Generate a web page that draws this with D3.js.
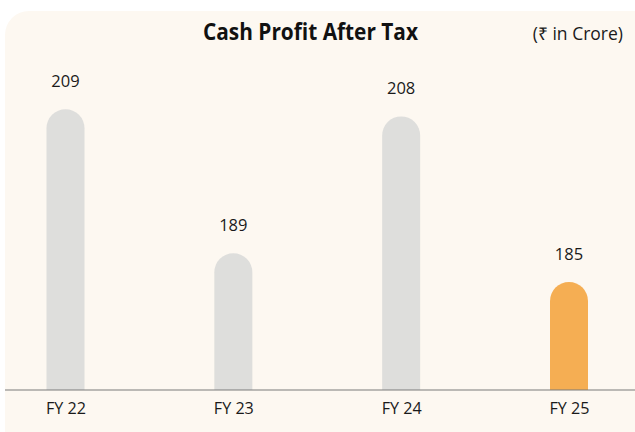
<!DOCTYPE html>
<html>
<head>
<meta charset="utf-8">
<script src="https://cdn.jsdelivr.net/npm/d3@7"></script>
<style>
  html, body { margin: 0; padding: 0; background: #ffffff; }
  svg { display: block; }
</style>
</head>
<body>
<svg id="chart" width="635" height="432"></svg>
<script>
// Cash profit after tax, ₹ in crore
const categories = ["FY 22", "FY 23", "FY 24", "FY 25"];
const values = [209, 189, 208, 185];
const highlight = ["FY 25"];

const title = "Cash Profit After Tax";
const unitNote = "(₹ in Crore)";

const W = 635, H = 432;
const baseY = 390;
const barW = 38;
const font = "'Open Sans', sans-serif";

const svg = d3.select("#chart");

// cream panel with rounded corners
svg.append("rect")
  .attr("x", 5).attr("y", 11)
  .attr("width", W + 20).attr("height", H + 30)
  .attr("rx", 24).attr("ry", 24)
  .attr("fill", "#fdf8f1");

const x = d3.scalePoint().domain(categories).range([65.5, 569]);
const y = d3.scaleLinear().domain([170, 220]).range([baseY, 30]);

// bar with a fully rounded top
function barPath(cx, top, bottom, w) {
  const r = w / 2;
  const p = d3.path();
  p.moveTo(cx - r, bottom);
  p.lineTo(cx - r, top + r);
  p.arc(cx, top + r, r, Math.PI, 0);
  p.lineTo(cx + r, bottom);
  p.closePath();
  return p.toString();
}

const data = categories.map((c, i) => ({ c, v: values[i] }));

svg.append("g").selectAll("path")
  .data(data)
  .join("path")
  .attr("d", d => barPath(x(d.c), y(d.v), y.range()[0], barW))
  .attr("fill", d => highlight.includes(d.c) ? "#f5ae53" : "#dededc");

// value labels
svg.append("g").selectAll("text")
  .data(data)
  .join("text")
  .attr("x", d => x(d.c))
  .attr("y", d => y(d.v) - 22)
  .attr("text-anchor", "middle")
  .attr("font-family", font)
  .attr("font-size", 16.5)
  .attr("fill", "#1a1a1a")
  .text(d => d.v);

// baseline axis
const axis = d3.axisBottom(x).tickSize(0).tickPadding(13);
const gx = svg.append("g")
  .attr("transform", `translate(0,${baseY})`)
  .call(axis);
gx.select(".domain").remove();
gx.append("line")
  .attr("x1", 5).attr("x2", W)
  .attr("y1", 0).attr("y2", 0)
  .attr("stroke", "#7a7a7a").attr("stroke-width", 1.2);
gx.selectAll(".tick text")
  .attr("font-family", font)
  .attr("font-size", 16)
  .attr("textLength", 40)
  .attr("lengthAdjust", "spacingAndGlyphs")
  .attr("fill", "#1a1a1a");

// titles
svg.append("text")
  .attr("x", 310.5).attr("y", 40)
  .attr("text-anchor", "middle")
  .attr("font-family", font)
  .attr("font-weight", 700)
  .attr("font-size", 23)
  .attr("textLength", 215)
  .attr("lengthAdjust", "spacingAndGlyphs")
  .attr("fill", "#111")
  .text(title);

svg.append("text")
  .attr("x", 623).attr("y", 40)
  .attr("text-anchor", "end")
  .attr("font-family", font)
  .attr("font-size", 17.5)
  .attr("fill", "#1a1a1a")
  .text(unitNote);
</script>
</body>
</html>
